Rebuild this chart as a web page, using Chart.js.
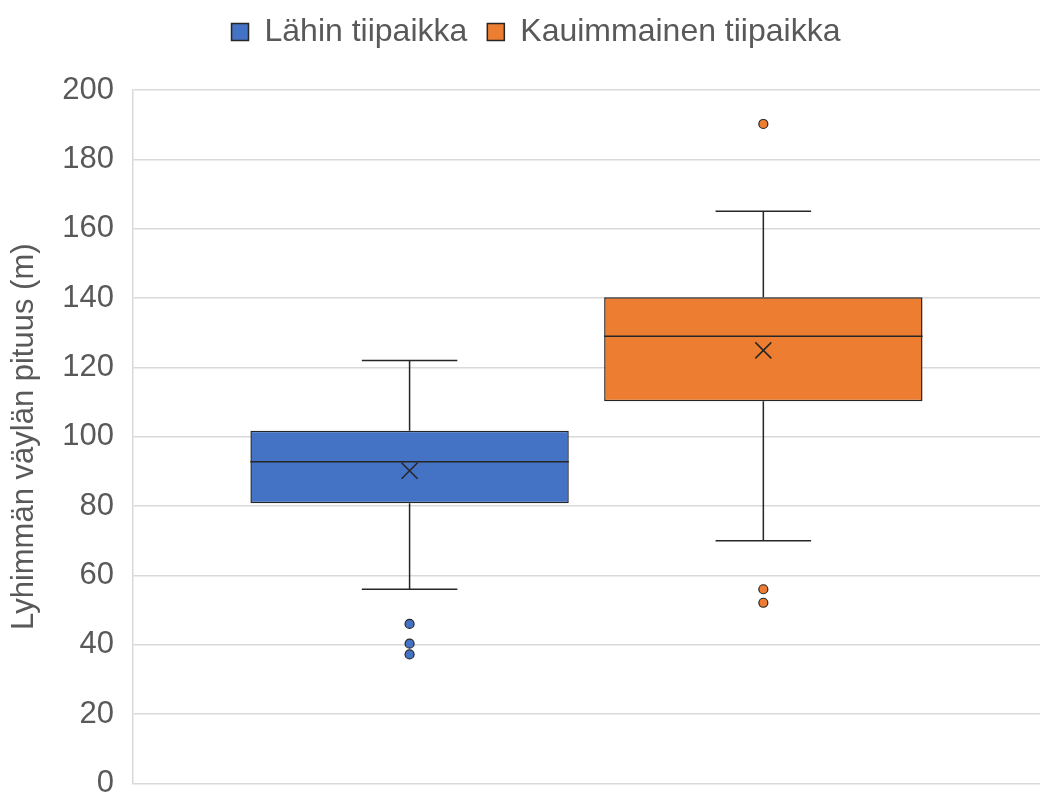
<!DOCTYPE html>
<html>
<head>
<meta charset="utf-8">
<script src="https://cdn.jsdelivr.net/npm/chart.js@4.4.1/dist/chart.umd.min.js"></script>
<style>
  html, body { margin: 0; padding: 0; background: #fff; overflow: hidden; }
  #wrap { width: 1040px; height: 821px; position: relative; }
</style>
</head>
<body>
<div id="wrap"><canvas id="boxChart"></canvas></div>
<script>
// Box plot data
const seriesNames = ['Lähin tiipaikka', 'Kauimmainen tiipaikka'];
const seriesColors = ['#4472C4', '#ED7D31'];
const whiskerLow = [56, 70];
const q1 = [80.8, 110.2];
const medians = [92.8, 129.0];
const q3 = [101.7, 140.2];
const whiskerHigh = [122, 165];
const means = [90.2, 124.9];
const outliers = [
    [46, 40.3, 37.2],
    [190.2, 56, 52.1]
];
const yTicks = [0, 20, 40, 60, 80, 100, 120, 140, 160, 180, 200];

const textColor = '#595959';
const lineColor = '#262626';

// Draws whiskers, medians, means and outliers on top of the floating bars
const boxPlotExtras = {
    id: 'boxPlotExtras',
    afterDatasetsDraw(chart) {
        const ctx = chart.ctx;
        const y = chart.scales.y;
        chart.data.datasets.forEach(function(ds, i) {
            const bar = chart.getDatasetMeta(i).data[0];
            const x = bar.x;
            const w = bar.width;
            const cap = w * 0.3 / 2;
            ctx.save();
            ctx.strokeStyle = lineColor;
            ctx.lineWidth = 1.5;
            // whiskers
            ctx.beginPath();
            ctx.moveTo(x, y.getPixelForValue(q3[i]));
            ctx.lineTo(x, y.getPixelForValue(whiskerHigh[i]));
            ctx.moveTo(x - cap, y.getPixelForValue(whiskerHigh[i]));
            ctx.lineTo(x + cap, y.getPixelForValue(whiskerHigh[i]));
            ctx.moveTo(x, y.getPixelForValue(q1[i]));
            ctx.lineTo(x, y.getPixelForValue(whiskerLow[i]));
            ctx.moveTo(x - cap, y.getPixelForValue(whiskerLow[i]));
            ctx.lineTo(x + cap, y.getPixelForValue(whiskerLow[i]));
            // median
            ctx.moveTo(x - w / 2, y.getPixelForValue(medians[i]));
            ctx.lineTo(x + w / 2, y.getPixelForValue(medians[i]));
            ctx.stroke();
            // mean marker (X)
            const my = y.getPixelForValue(means[i]);
            const s = 8;
            ctx.beginPath();
            ctx.moveTo(x - s, my - s);
            ctx.lineTo(x + s, my + s);
            ctx.moveTo(x - s, my + s);
            ctx.lineTo(x + s, my - s);
            ctx.stroke();
            // outliers
            ctx.fillStyle = seriesColors[i];
            ctx.lineWidth = 1.2;
            outliers[i].forEach(function(v) {
                ctx.beginPath();
                ctx.arc(x, y.getPixelForValue(v), 4.5, 0, Math.PI * 2);
                ctx.fill();
                ctx.stroke();
            });
            ctx.restore();
        });
    }
};

// Extra room between the legend and the plot, and nudge the legend a bit
const legendSpacer = {
    id: 'legendSpacer',
    beforeInit(chart) {
        const origFit = chart.legend.fit;
        chart.legend.fit = function() {
            origFit.bind(chart.legend)();
            this.height += 26;
        };
    },
    afterLayout(chart) {
        chart.legend.top -= 6;
        chart.legend.left += 26;
    }
};

const ctx = document.getElementById('boxChart').getContext('2d');

new Chart(ctx, {
    type: 'bar',
    data: {
        labels: [''],
        datasets: seriesNames.map(function(name, i) {
            return {
                label: name,
                data: [[q1[i], q3[i]]],
                backgroundColor: seriesColors[i],
                borderColor: lineColor,
                borderWidth: 1.5,
                borderSkipped: false,
                categoryPercentage: 0.78,
                barPercentage: 0.9
            };
        })
    },
    options: {
        responsive: true,
        maintainAspectRatio: false,
        animation: false,
        layout: {
            padding: { top: 2, left: 6, right: 0, bottom: 0 }
        },
        plugins: {
            legend: {
                position: 'top',
                labels: {
                    color: textColor,
                    font: { family: 'Liberation Sans', size: 32 },
                    boxWidth: 17,
                    boxHeight: 17,
                    padding: 20
                }
            },
            tooltip: { enabled: false }
        },
        scales: {
            x: {
                display: false
            },
            y: {
                min: 0,
                max: 200,
                afterBuildTicks: function(axis) {
                    axis.ticks = yTicks.map(function(v) { return { value: v }; });
                },
                grid: {
                    color: '#d9d9d9',
                    lineWidth: 1.5,
                    drawTicks: false
                },
                border: {
                    display: true,
                    color: '#d9d9d9',
                    width: 1.5
                },
                ticks: {
                    color: textColor,
                    font: { family: 'Liberation Sans', size: 31 },
                    padding: 19
                },
                title: {
                    display: true,
                    text: 'Lyhimmän väylän pituus (m)',
                    color: textColor,
                    font: { family: 'Liberation Sans', size: 31 },
                    padding: { top: 0, bottom: 0 }
                }
            }
        }
    },
    plugins: [boxPlotExtras, legendSpacer]
});
</script>
</body>
</html>
